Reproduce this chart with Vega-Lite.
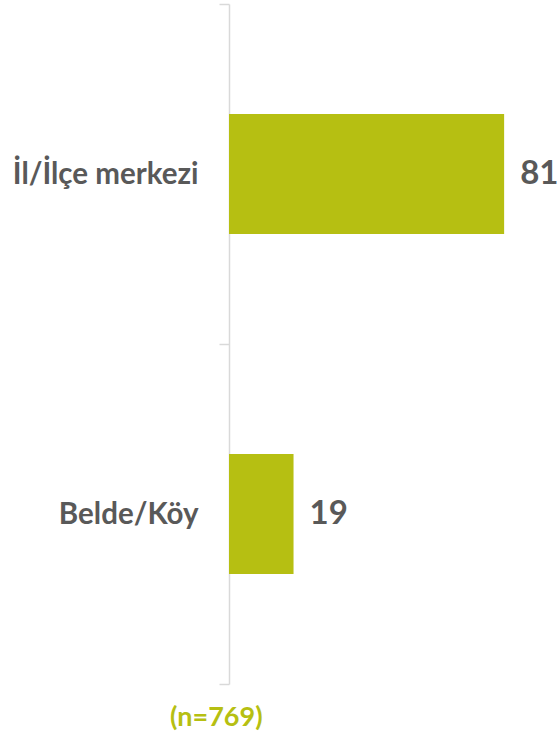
{
  "$schema": "https://vega.github.io/schema/vega-lite/v6.json",
  "autosize": "none",
  "width": 304,
  "height": 680,
  "padding": {"left": 229, "top": 4, "right": 27, "bottom": 53},
  "background": "white",
  "data": {"values": [
    {"category": "İl/İlçe merkezi", "value": 81},
    {"category": "Belde/Köy", "value": 19}
  ]},
  "title": {
    "text": "(n=769)",
    "orient": "bottom",
    "anchor": "start",
    "frame": "group",
    "dx": -59,
    "offset": 20,
    "font": "Lato",
    "fontSize": 27,
    "fontWeight": "bold",
    "color": "#B6BF12"
  },
  "config": {"view": {"stroke": null}},
  "encoding": {
    "y": {
      "field": "category",
      "type": "nominal",
      "sort": null,
      "scale": {"paddingInner": 0, "paddingOuter": 0},
      "axis": {
        "title": null,
        "tickBand": "extent",
        "domainColor": "#D9D9D9",
        "domainWidth": 1.5,
        "tickColor": "#D9D9D9",
        "tickWidth": 1.5,
        "tickSize": 10,
        "labelPadding": 21,
        "labelFont": "Lato",
        "labelFontSize": 29.5,
        "labelFontWeight": "bold",
        "labelColor": "#595959",
        "labelLimit": 300
      }
    },
    "x": {
      "field": "value",
      "type": "quantitative",
      "scale": {"domain": [0, 89.5]},
      "axis": null
    }
  },
  "layer": [
    {"mark": {"type": "bar", "color": "#B6BF12", "height": {"band": 0.353}}},
    {
      "mark": {"type": "text", "align": "left", "baseline": "middle", "dx": 16, "font": "Lato", "fontSize": 33, "fontWeight": "bold", "color": "#595959"},
      "encoding": {"text": {"field": "value", "type": "quantitative"}}
    }
  ]
}
